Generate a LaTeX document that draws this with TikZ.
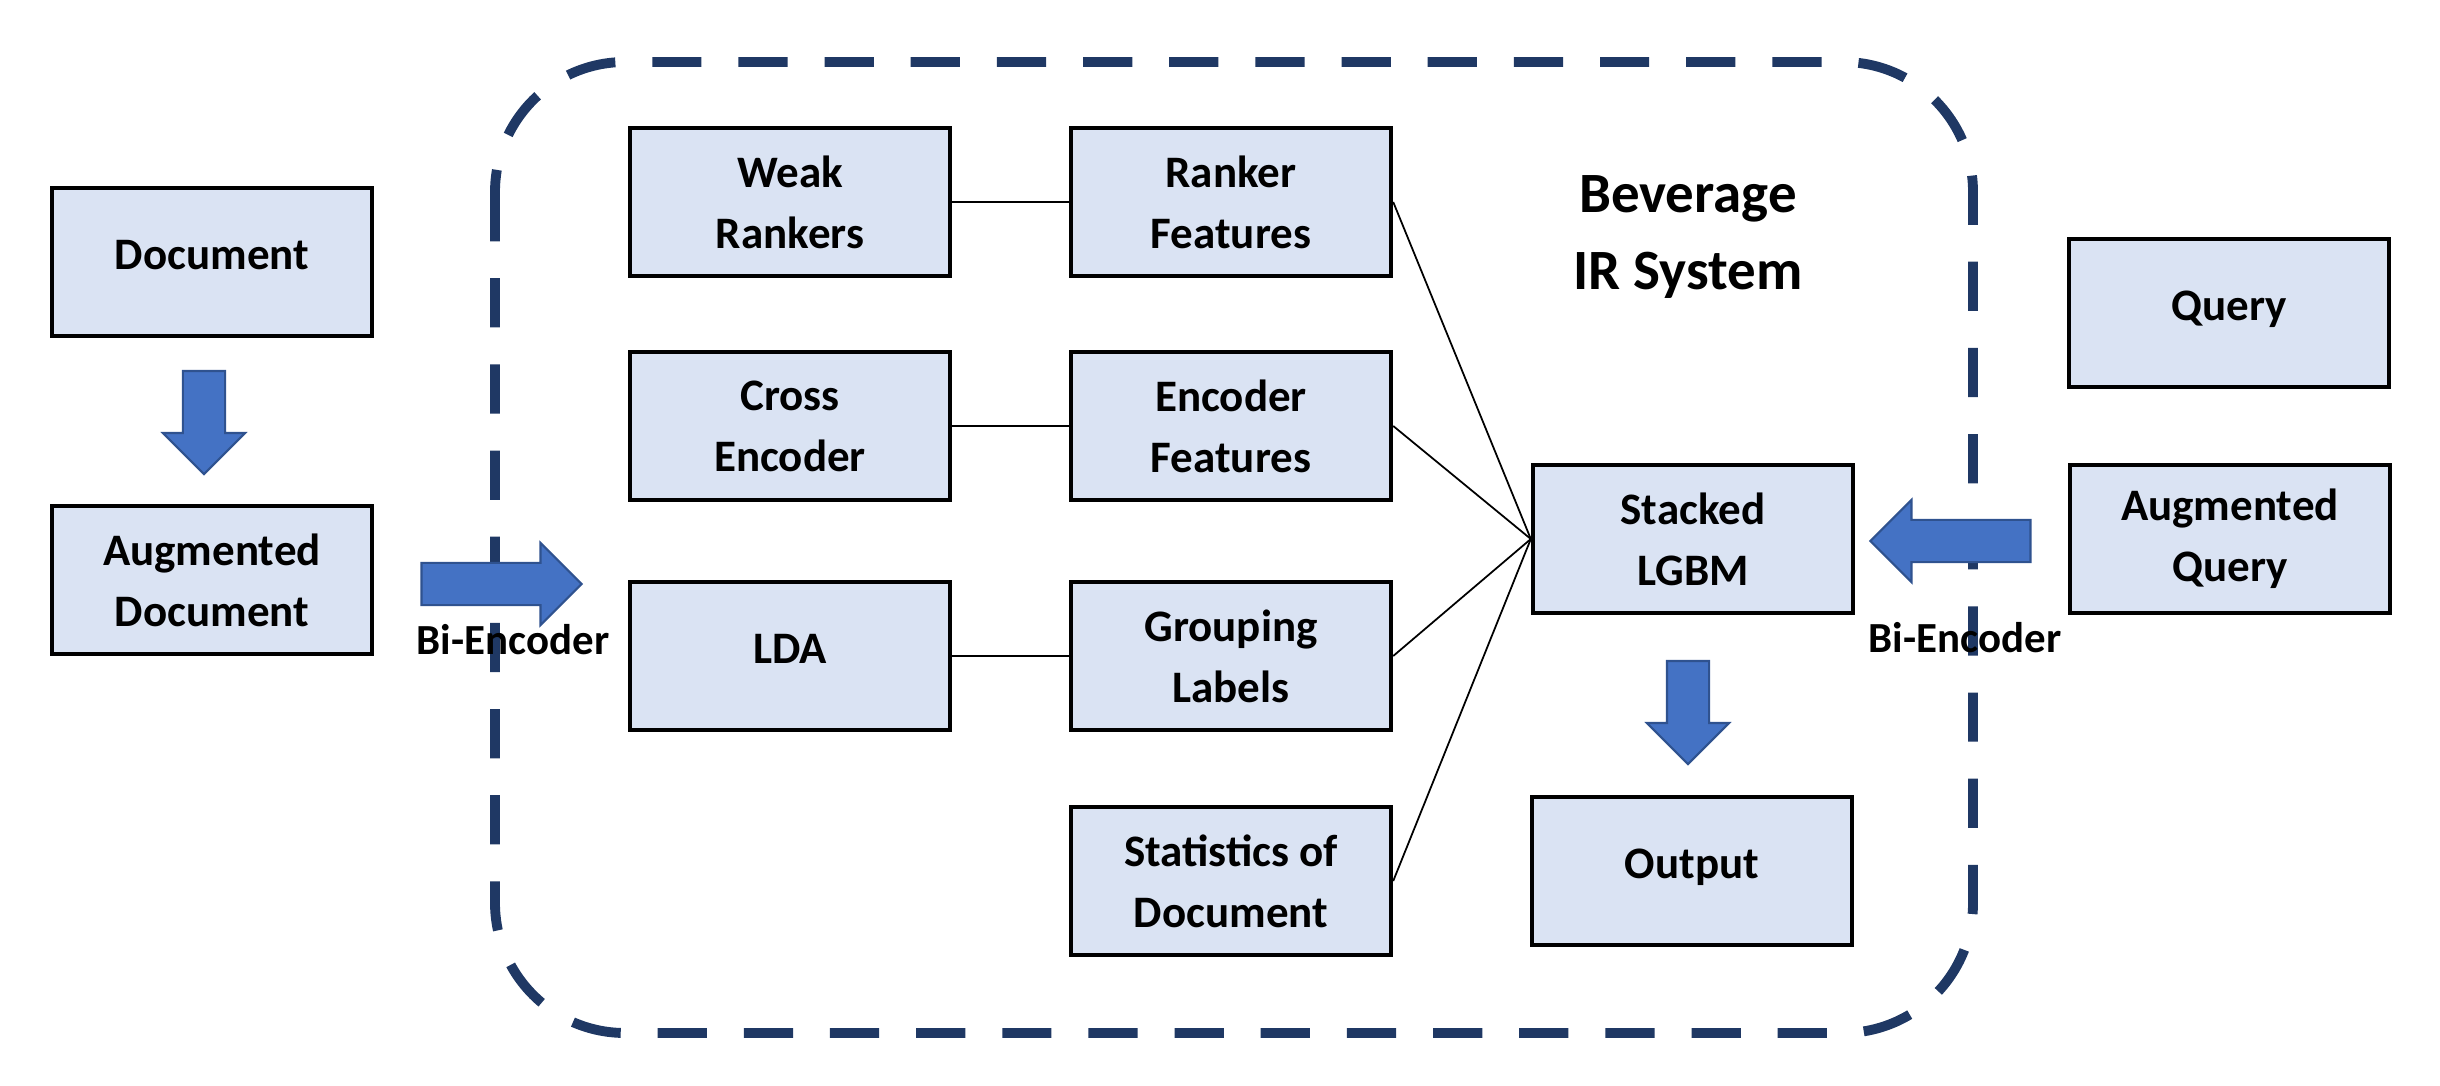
\documentclass[tikz,border=0pt]{standalone}
\usepackage{fontspec}
\setmainfont{Carlito}
\usetikzlibrary{shapes.arrows,calc}
\definecolor{boxfill}{HTML}{DAE3F3}
\definecolor{arrowfill}{HTML}{4472C4}
\definecolor{arrowdraw}{HTML}{2F528F}
\definecolor{navyline}{HTML}{1F3864}
\newcommand{\bxfont}{\fontsize{12.8pt}{17.3pt}\selectfont\bfseries}
\newcommand{\ttlfont}{\fontsize{16.2pt}{21.7pt}\selectfont\bfseries}
\newcommand{\lblfont}{\fontsize{12.2pt}{14pt}\selectfont\bfseries}
\begin{document}
\begin{tikzpicture}[x=0.01cm,y=-0.01cm,
  box/.style={draw=black,line width=1.2pt,fill=boxfill,minimum width=3.2cm,minimum height=1.48cm,align=center,font=\bxfont,inner sep=0pt},
  onebox/.style={box,text height=9pt,text depth=5pt},
  twobox/.style={box,yshift=-0.03cm},
  blockarrow/.style={single arrow,draw=arrowdraw,fill=arrowfill,line width=0.6pt,inner sep=0pt,single arrow head extend=0.2cm,minimum height=1.03cm,single arrow tip angle=90},
  longarrow/.style={blockarrow,minimum height=1.6cm},
  link/.style={draw=black,line width=0.5pt},
  lbl/.style={font=\lblfont,inner sep=0pt}]
\useasboundingbox (0,0) rectangle (2440,1086);
% system boundary
\draw[navyline,line width=2.8pt,dash pattern=on 14pt off 10.5pt,rounded corners=1.3cm] (495,62) rectangle (1973,1033);
% nodes
\node[onebox] (doc) at (212,262) {Document};
\node[box] (augdoc) at (212,580) {Augmented\\Document};
\node[box] (weak) at (790,202) {Weak\\Rankers};
\node[box] (rankf) at (1231,202) {Ranker\\Features};
\node[box] (cross) at (790,426) {Cross\\Encoder};
\node[box] (encf) at (1231,426) {Encoder\\Features};
\node[onebox] (lda) at (790,656) {LDA};
\node[box] (group) at (1231,656) {Grouping\\Labels};
\node[box] (stats) at (1231,881) {Statistics of\\Document};
\node[font=\ttlfont,align=center] (title) at (1688,237) {Beverage\\IR System};
\node[onebox] (query) at (2229,313) {Query};
\node[box] (stacked) at (1693,539) {Stacked\\LGBM};
\node[box] (augq) at (2230,539) {Augmented\\Query};
\node[onebox] (output) at (1692,871) {Output};
% block arrows
\node[blockarrow,rotate=-90] (a1) at (204,412) {\rule{0pt}{0.4cm}};
\node[longarrow] (a2) at (491,584) {\rule{0pt}{0.4cm}};
\node[longarrow,rotate=180] (a3) at (1961,541) {\rule{0pt}{0.4cm}};
\node[blockarrow,rotate=-90] (a4) at (1688,702) {\rule{0pt}{0.4cm}};
\node[lbl] (bil) at (513,640) {Bi-Encoder};
\node[lbl] (bir) at (1965,638) {Bi-Encoder};
% links
\draw[link] (weak.east) -- (rankf.west);
\draw[link] (cross.east) -- (encf.west);
\draw[link] (lda.east) -- (group.west);
\draw[link] (rankf.east) -- (stacked.west);
\draw[link] (encf.east) -- (stacked.west);
\draw[link] (group.east) -- (stacked.west);
\draw[link] (stats.east) -- (stacked.west);
\end{tikzpicture}
\end{document}
